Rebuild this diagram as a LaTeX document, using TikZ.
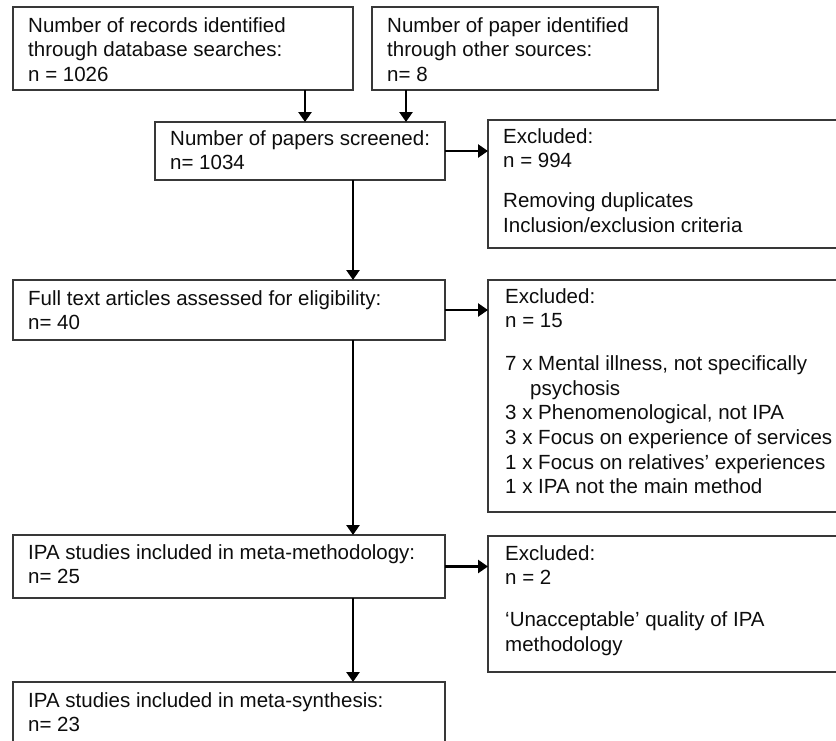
\documentclass[tikz,border=0pt]{standalone}
\usepackage{fontspec}
\setmainfont{Liberation Sans}
\usetikzlibrary{arrows.meta}
\begin{document}
\begin{tikzpicture}[x=1pt,y=-1pt,
  box/.style={draw=black!78, line width=2pt, anchor=north west, inner sep=0pt, outer sep=0pt, rectangle},
  txt/.style={anchor=north west, inner sep=0pt, align=left, text=black!95, font=\fontsize{20.5}{24.7}\selectfont},
  arr/.style={line width=2.6pt, -{Triangle[length=10pt,width=13pt]}}]
\useasboundingbox (0,0) rectangle (836,740);
\clip (0,0) rectangle (836,740);
% boxes
\node[box, minimum width=340pt, minimum height=83pt]  (A) at (13,7) {};
\node[box, minimum width=286pt, minimum height=83pt]  (B) at (372,7) {};
\node[box, minimum width=290pt, minimum height=58pt]  (C) at (155,122) {};
\node[box, minimum width=360pt, minimum height=128pt] (D) at (488,120) {};
\node[box, minimum width=432pt, minimum height=60pt]  (E) at (13,280) {};
\node[box, minimum width=360pt, minimum height=232pt] (F) at (488,280) {};
\node[box, minimum width=432pt, minimum height=63pt]  (G) at (13,535) {};
\node[box, minimum width=360pt, minimum height=136pt] (H) at (488,536) {};
\node[box, minimum width=432pt, minimum height=70pt]  (I) at (13,682) {};
% texts
\node[txt] (tA) at (28,17) {Number of records identified\\through database searches:\\n = 1026};
\node[txt] (tB) at (387,17) {Number of paper identified\\through other sources:\\n= 8};
\node[txt] (tC) at (170,130) {Number of papers screened:\\n= 1034};
\node[txt] (tD) at (503,128) {Excluded:\\n = 994\\[15pt]Removing duplicates\\Inclusion/exclusion criteria};
\node[txt] (tE) at (28,290) {Full text articles assessed for eligibility:\\n= 40};
\node[txt] (tF) at (505,288) {Excluded:\\n = 15\\[18pt]7 x Mental illness, not specifically\\\hspace*{25pt}psychosis\\3 x Phenomenological, not IPA\\3 x Focus on experience of services\\1 x Focus on relatives' experiences\\1 x IPA not the main method};
\node[txt] (tG) at (28,544) {IPA studies included in meta-methodology:\\n= 25};
\node[txt] (tH) at (505,545) {Excluded:\\n = 2\\[17pt]`Unacceptable' quality of IPA\\methodology};
\node[txt] (tI) at (28,692) {IPA studies included in meta-synthesis:\\n= 23};
% connectors
\path (A.south east) ++(-48,0) coordinate (a1);
\draw[arr] (a1) -- (a1 |- C.north);
\path (B.south west) ++(34,0) coordinate (b1);
\draw[arr] (b1) -- (b1 |- C.north);
\draw[arr] (C.east) -- (C.east -| D.west);
\path (C.south east) ++(-92,0) coordinate (c1);
\draw[arr] (c1) -- (c1 |- E.north);
\draw[arr] (E.east) -- (E.east -| F.west);
\path (E.south east) ++(-92,0) coordinate (e1);
\draw[arr] (e1) -- (e1 |- G.north);
\draw[arr] (G.east) -- (G.east -| H.west);
\path (G.south east) ++(-92,0) coordinate (g1);
\draw[arr] (g1) -- (g1 |- I.north);
\end{tikzpicture}
\end{document}
